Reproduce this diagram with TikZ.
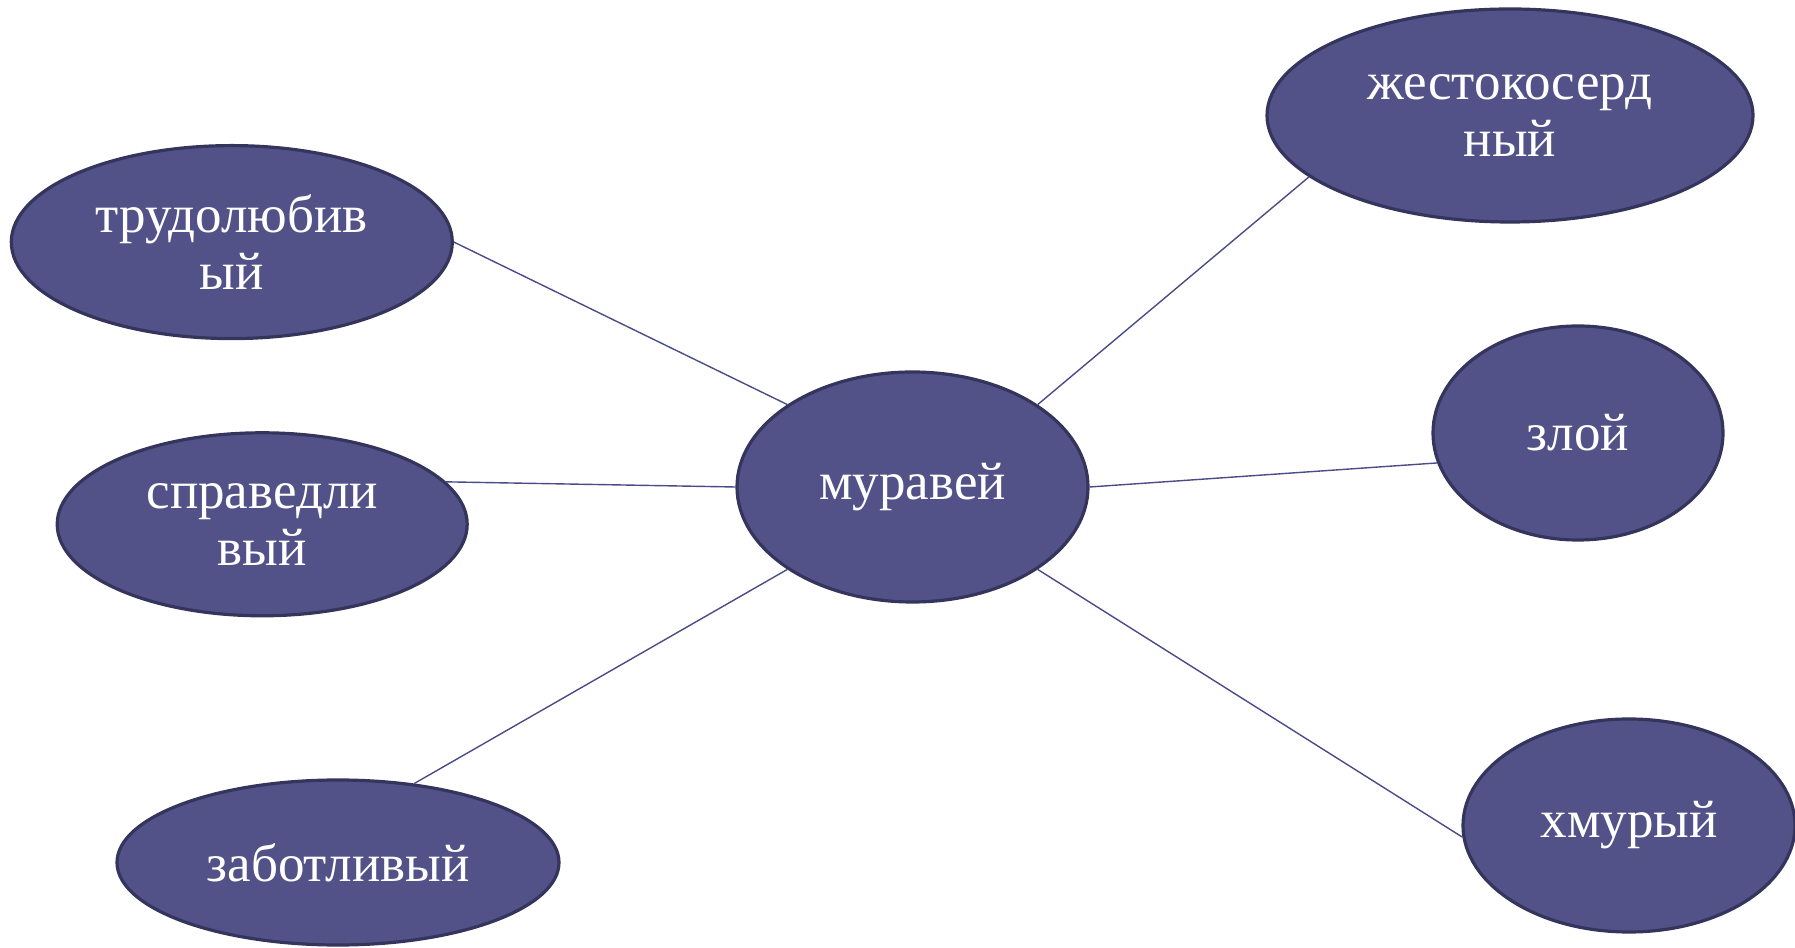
\documentclass[tikz,border=0pt]{standalone}
\usepackage{fontspec}
\setmainfont{Liberation Serif}
\usetikzlibrary{shapes.geometric}
\definecolor{ellfill}{RGB}{82,82,136}
\definecolor{ellline}{RGB}{52,52,92}
\definecolor{conn}{RGB}{75,75,135}
\begin{document}
\begin{tikzpicture}[x=1pt,y=1pt,
  bubble/.style={ellipse,fill=ellfill,draw=ellline,line width=3.2pt,inner sep=0pt,
    text=white,align=center,font=\fontsize{53}{57}\selectfont},
  link/.style={draw=conn,line width=1.4pt}]
\useasboundingbox (0,0) rectangle (1795,947);
\node[bubble,minimum width=441,minimum height=193] (tr) at (231.8,704.9) {трудолюбив\\ый};
\node[bubble,minimum width=410,minimum height=183] (spr) at (262.2,422.7) {справедли\\вый};
\node[bubble,minimum width=442,minimum height=165] (zab) at (338,84.5) {заботливый};
\node[bubble,minimum width=351,minimum height=230] (mur) at (912.5,460) {муравей};
\node[bubble,minimum width=486,minimum height=213] (zh) at (1510,831.5) {жестокосерд\\ный};
\node[bubble,minimum width=290,minimum height=214] (zl) at (1578,514) {злой};
\node[bubble,minimum width=332,minimum height=213] (hm) at (1629,121.5) {хмурый};
\draw[link] (tr.east) -- (mur.north west);
\draw[link] (spr.13) -- (mur.west);
\draw[link] (zab.46) -- (mur.south west);
\draw[link] (zh.197) -- (mur.north east);
\draw[link] (zl.192) -- (mur.east);
\draw[link] (hm.184) -- (mur.south east);
\end{tikzpicture}
\end{document}
